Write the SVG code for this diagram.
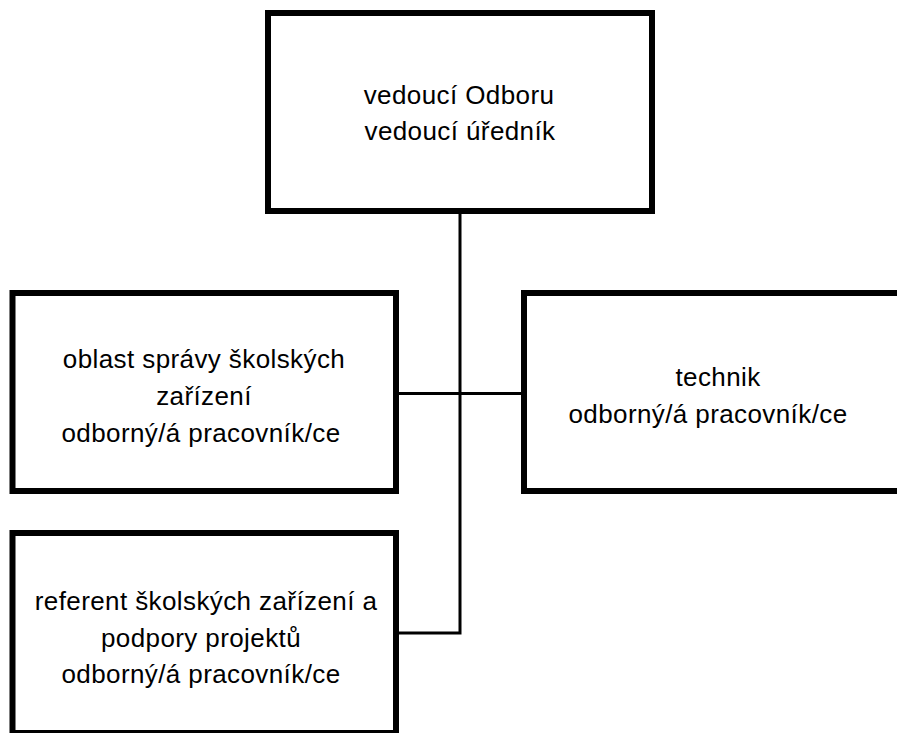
<svg xmlns="http://www.w3.org/2000/svg" width="897" height="733" viewBox="0 0 897 733">
  <style>
    .box { fill: #ffffff; stroke: #000000; stroke-width: 6; }
    .link { fill: none; stroke: #000000; stroke-width: 3; }
    .label { font-family: "Liberation Sans", Arial, sans-serif; font-size: 26px; letter-spacing: 0.4px; fill: #000000; text-anchor: middle; }
  </style>
  <rect width="897" height="733" fill="#ffffff"/>

  <!-- connectors -->
  <g id="connectors">
    <path class="link" d="M460,211 V633 H396"/>
    <path class="link" d="M396,393.5 H524"/>
  </g>

  <g id="head">
    <rect class="box" x="268" y="13" width="384" height="198"/>
    <text class="label" x="459" y="104">vedoucí Odboru</text>
    <text class="label" x="460" y="140">vedoucí úředník</text>
  </g>

  <g id="school-facilities">
    <rect class="box" x="12.5" y="293" width="383.5" height="198"/>
    <text class="label" x="204" y="368">oblast správy školských</text>
    <text class="label" x="204" y="405">zařízení</text>
    <text class="label" x="201" y="442">odborný/á pracovník/ce</text>
  </g>

  <g id="technician">
    <rect class="box" x="524" y="293" width="390" height="198"/>
    <text class="label" x="718" y="386">technik</text>
    <text class="label" x="708" y="423">odborný/á pracovník/ce</text>
  </g>

  <g id="projects">
    <rect class="box" x="12.5" y="533" width="383.5" height="200"/>
    <text class="label" x="206" y="610">referent školských zařízení a</text>
    <text class="label" x="201" y="647">podpory projektů</text>
    <text class="label" x="201" y="683">odborný/á pracovník/ce</text>
  </g>
</svg>
